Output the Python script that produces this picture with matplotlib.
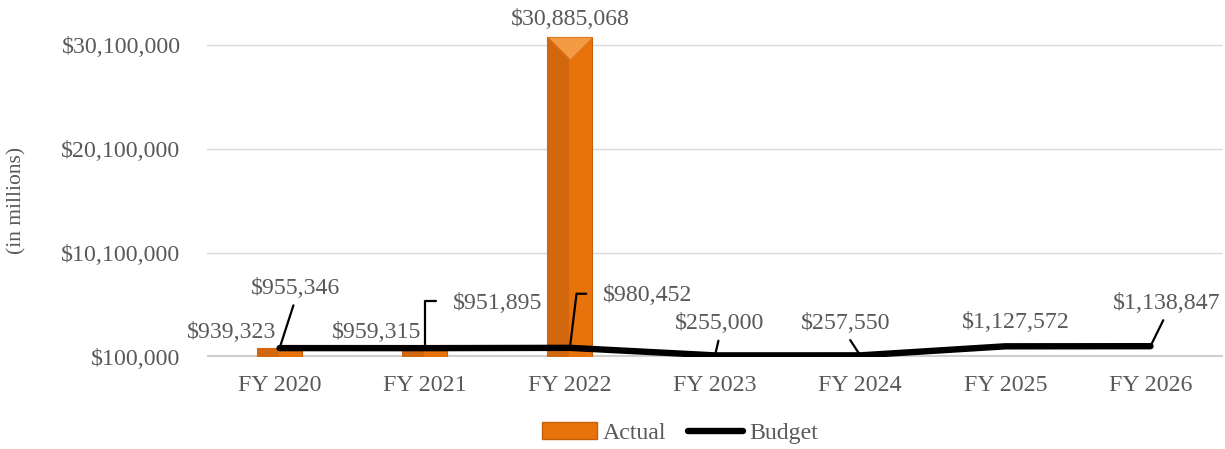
import numpy as np
import matplotlib.pyplot as plt
from matplotlib.patches import Patch
from matplotlib.lines import Line2D
from matplotlib.path import Path

plt.rcParams['font.family'] = ['Liberation Serif', 'DejaVu Serif']

years = ["FY 2020", "FY 2021", "FY 2022", "FY 2023", "FY 2024", "FY 2025", "FY 2026"]
actual = [939323, 959315, 30885068]
budget = [955346, 951895, 980452, 255000, 257550, 1127572, 1138847]
yticks = [100000, 10100000, 20100000, 30100000]

txt = '#595959'
fs = 17.2

fig = plt.figure(figsize=(12.25, 4.49), dpi=100)
ax = fig.add_axes([0.169, 0.2049, 0.8294, 0.7389])

x = np.arange(len(years))
xa = x[:len(actual)]
w = 0.31

## bars: flat orange with a darker left half and a light bevel on top
ax.bar(xa, actual, width=w, bottom=0, color='#E8720C', edgecolor='#C45F0B',
       linewidth=0.8, zorder=2)
ax.bar(xa - w / 2, actual, width=w * 0.48, align='edge', color='#D3670E',
       linewidth=0, zorder=2)
bevel = Path([(-1, 0), (1, 0), (0, -1), (-1, 0)],
             [Path.MOVETO, Path.LINETO, Path.LINETO, Path.CLOSEPOLY])
tall = [i for i, v in enumerate(actual) if v > 5e6]
ax.plot(xa[tall], [actual[i] for i in tall], linestyle='none', marker=bevel,
        markersize=32, markerfacecolor='#F39A45', markeredgecolor='#E07A20',
        markeredgewidth=0.5, zorder=3)

## budget line
ax.plot(x, budget, color='black', linewidth=4.6, solid_capstyle='round', zorder=4)

## labels
for i, v in enumerate(actual):
    if i == 2:
        ax.annotate(f"${v:,}", (xa[i], v), xytext=(0, 17), textcoords='offset pixels',
                    ha='center', va='center', fontsize=fs, color=txt, annotation_clip=False)
    else:
        ax.annotate(f"${v:,}", (xa[i], v), xytext=(-3, 16), textcoords='offset pixels',
                    ha='right', va='center', fontsize=fs, color=txt, annotation_clip=False)

# (dx, dy, ha, connection) per budget label
lab_style = [
    (16, 60, 'center', 'straight'),
    (28, 45, 'left', 'bent90'),
    (33, 52, 'left', 'bent83'),
    (5, 32, 'center', 'straight'),
    (-14, 32, 'center', 'straight'),
    (11, 24, 'center', None),
    (16, 43, 'center', 'straight'),
]
for i, v in enumerate(budget):
    dx, dy, ha, conn = lab_style[i]
    props = None
    if conn == 'straight':
        props = dict(arrowstyle='-', color='black', lw=1.6, shrinkA=3, shrinkB=0,
                     relpos=(0.5, 0.0))
    elif conn is not None:
        ang = 90 if conn == 'bent90' else 83
        props = dict(arrowstyle='-', color='black', lw=1.6, shrinkA=10, shrinkB=0,
                     relpos=(0.0, 0.6),
                     connectionstyle=f"angle,angleA=0,angleB={ang},rad=0")
    ax.annotate(f"${v:,}", (x[i], v), xytext=(dx, dy), textcoords='offset pixels',
                ha=ha, va='center', fontsize=fs, color=txt, arrowprops=props,
                annotation_clip=False, zorder=5)

## axes
ax.set_xlim(-0.5, len(years) - 0.5)
ax.set_ylim(100000, 32000000)
ax.set_xticks(x)
ax.set_xticklabels(years)
ax.set_yticks(yticks)
ax.set_yticklabels([f"${t:,}" for t in yticks])
ax.tick_params(axis='both', length=0, labelsize=fs, labelcolor=txt)
ax.tick_params(axis='x', pad=13)
ax.tick_params(axis='y', pad=19)
ax.grid(axis='y', color='#d9d9d9', linewidth=1)
ax.set_axisbelow(True)
ax.axhline(100000, color='#cfcfcf', linewidth=3, zorder=1)
for s in ax.spines.values():
    s.set_visible(False)

fig.text(17 / 1225, 1 - 200 / 449, "(in millions)", rotation=90, ha='center', va='center',
         fontsize=15.5, color=txt)

handles = [Patch(facecolor='#E8720C', edgecolor='#C45F0B'),
           Line2D([0], [0], color='black', linewidth=4.6, solid_capstyle='round')]
fig.legend(handles, ['Actual', 'Budget'], loc='center', bbox_to_anchor=(680 / 1225, 1 - 433 / 449),
           ncol=2, frameon=False, fontsize=fs, labelcolor=txt, handlelength=2.3,
           handletextpad=0.25, columnspacing=0.9, handleheight=0.7)

fig.savefig('out.png', dpi=100)
